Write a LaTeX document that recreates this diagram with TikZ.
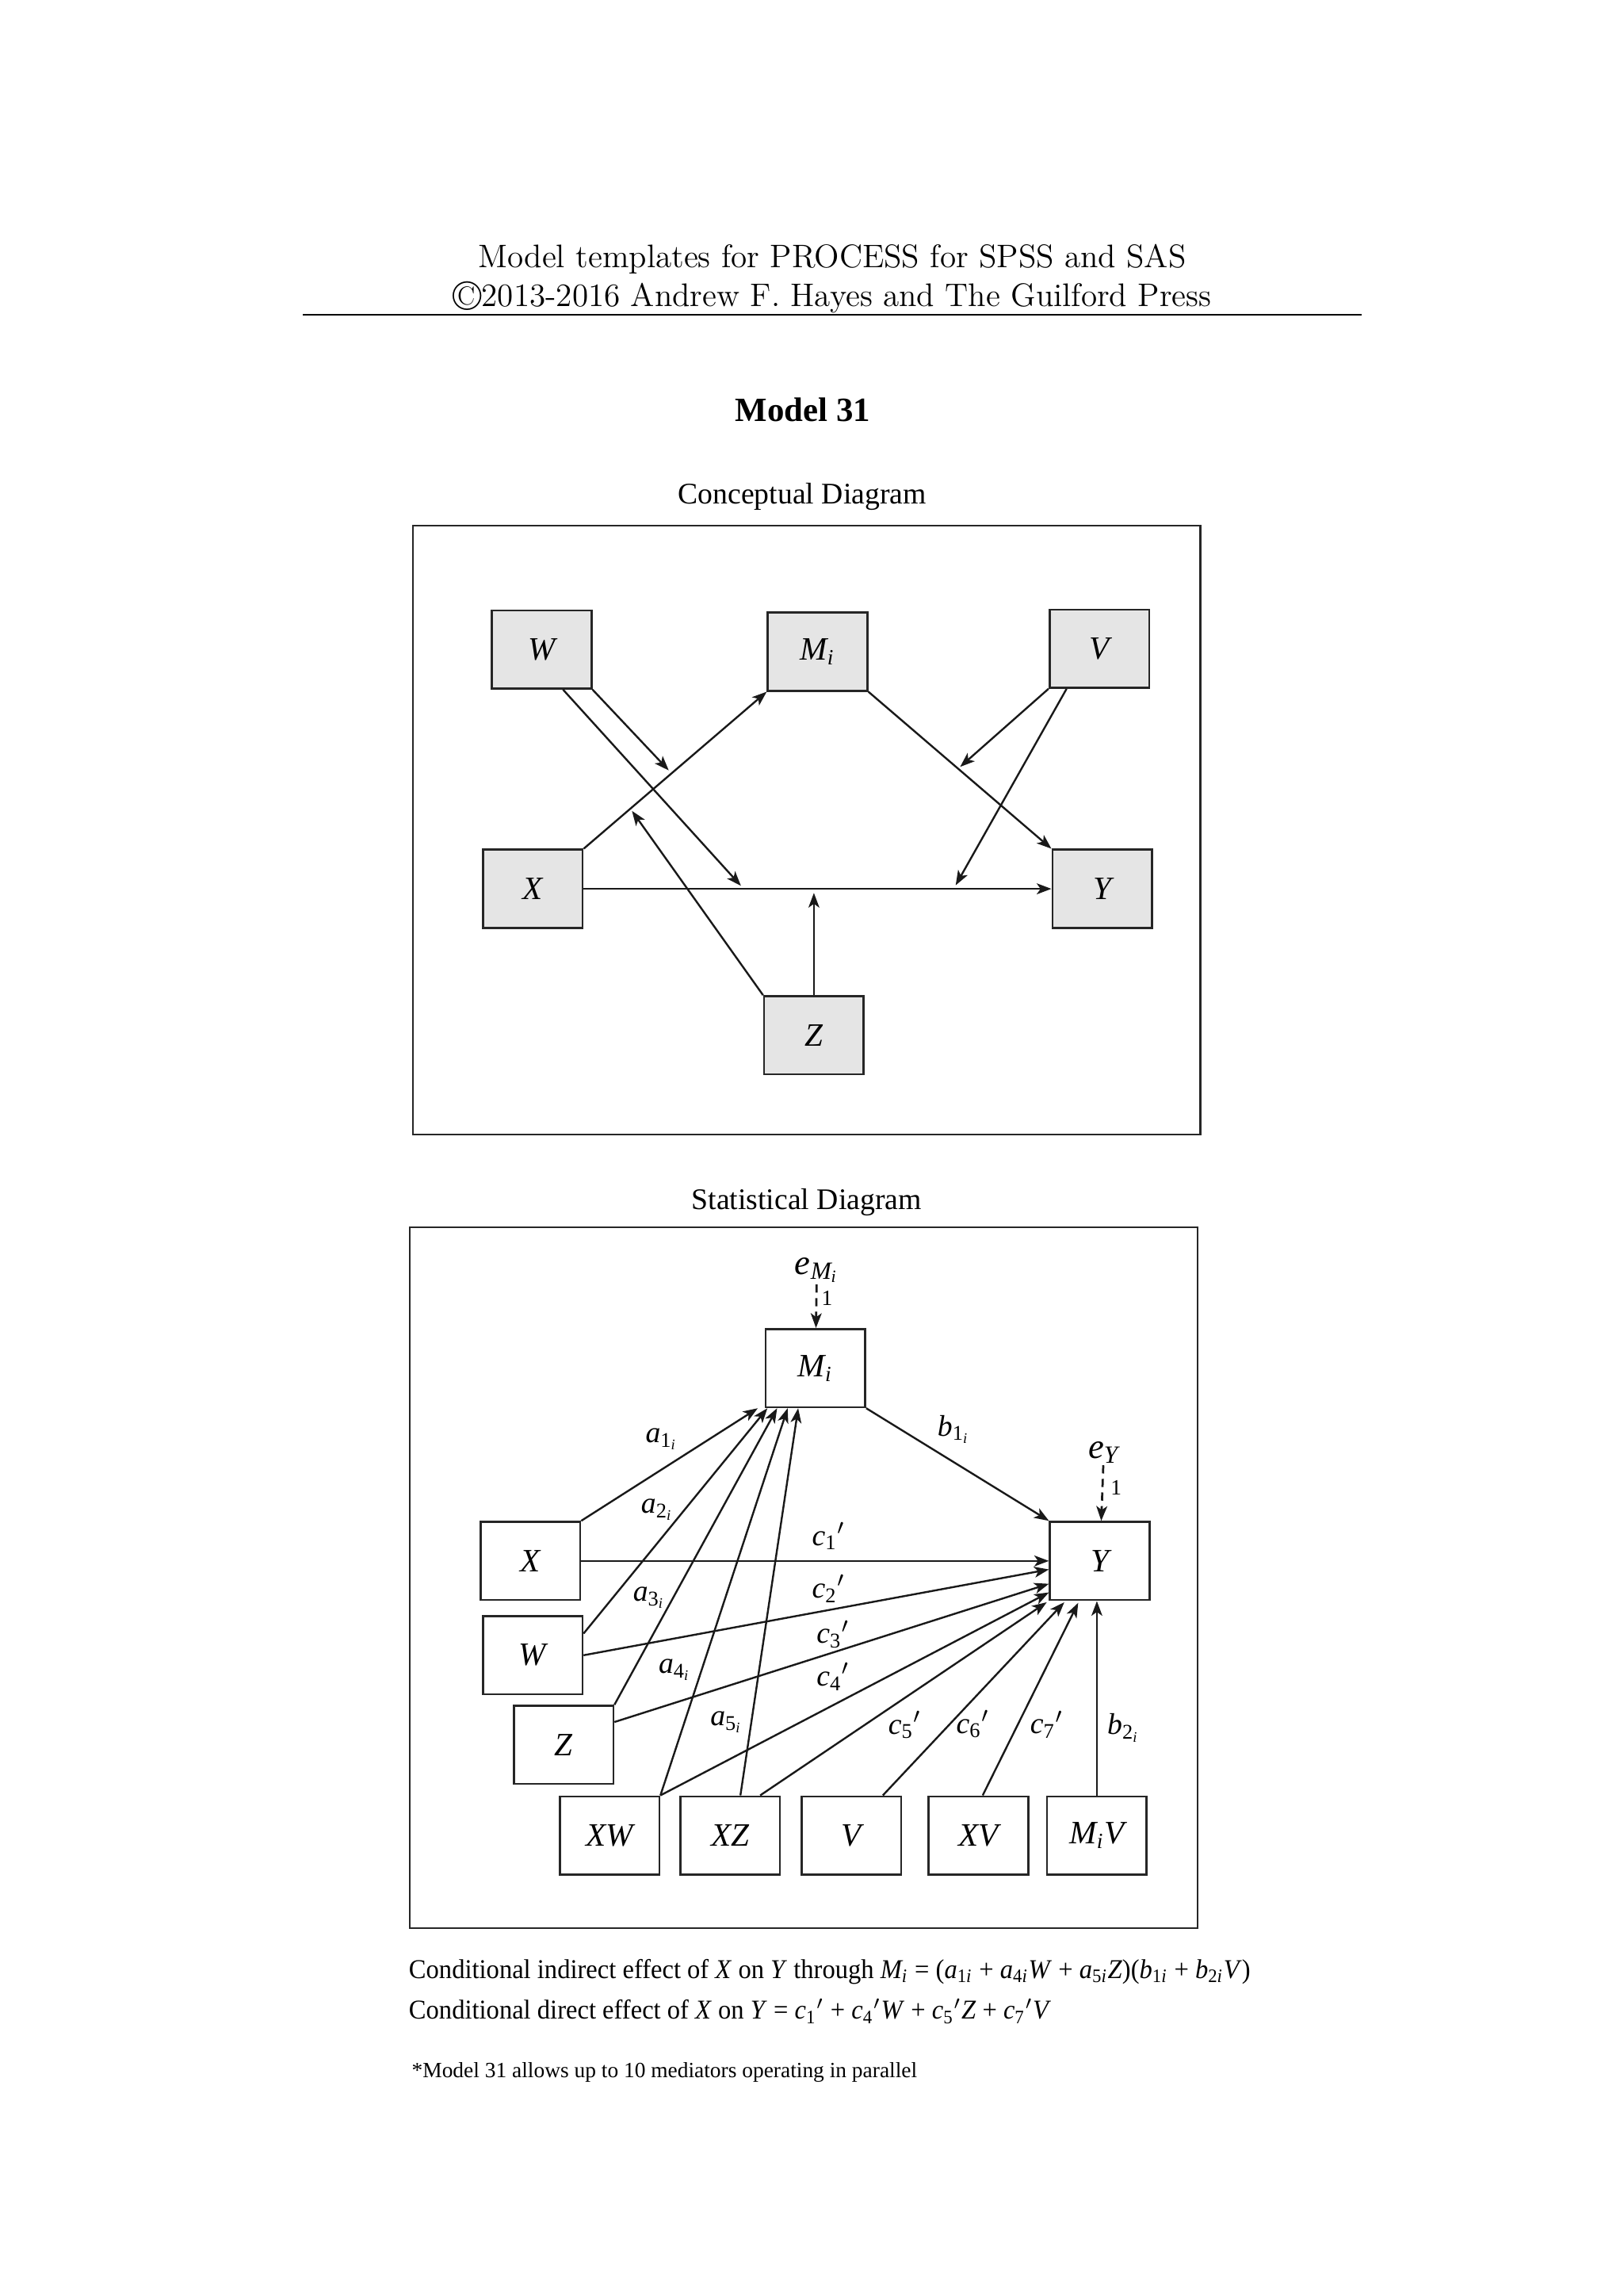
\documentclass[tikz,border=0pt]{standalone}
\usepackage{fontspec}
\newfontfamily\tms{Liberation Serif}
\newfontfamily\tmsc[FakeStretch=0.95]{Liberation Serif}
\usetikzlibrary{arrows.meta,calc}
\tikzset{
  cbox/.style={draw=black!85,line width=0.8pt,fill=black!10,minimum width=1.288cm,minimum height=1.01cm,inner sep=0pt,font=\tms\fontsize{12}{14}\selectfont\itshape},
  sbox/.style={cbox,fill=none},
  arr/.style={-{Stealth[length=5.4pt,width=4pt,inset=1.4pt]},line width=0.7pt,draw=black!90},
  darr/.style={arr,line width=0.8pt,dash pattern=on 3pt off 2pt},
  lab/.style={font=\tms\fontsize{11}{13}\selectfont\itshape,inner sep=0pt},
  frame/.style={draw=black!85,line width=0.6pt}
}
\begin{document}
\begin{tikzpicture}[x=0.018936cm,y=-0.018936cm]
  \useasboundingbox (0,0) rectangle (1109,1568);
  \node[font=\fontsize{12}{14.5}\selectfont,anchor=base,inner sep=0pt] (hd1) at (568.5,183) {Model templates for PROCESS for SPSS and SAS};
  \node[font=\fontsize{12}{14.5}\selectfont,anchor=base,inner sep=0pt] (hd2) at (568.5,209) {\raisebox{-1.6pt}{\fontsize{15.5}{16}\selectfont\textcopyright}2013-2016 Andrew F. Hayes and The Guilford Press};
  \draw[line width=0.4pt] (207,215) -- (930,215);
  \node[font=\tms\bfseries\fontsize{12.5}{15}\selectfont,anchor=base,inner sep=0pt] (ttl) at (548.5,288) {Model 31};
  \node[font=\tms\fontsize{11}{13}\selectfont,anchor=base,inner sep=0pt] (cd) at (548,344) {Conceptual Diagram};
  \node[font=\tms\fontsize{11}{13}\selectfont,anchor=base,inner sep=0pt] (sd) at (551,826) {Statistical Diagram};
  \draw[frame] (282,359) rectangle (820,775);
  \draw[frame] (280,838) rectangle (818,1317);

  \foreach \n/\x/\y/\t in {cW/370/443.5/W, cM/558.5/445/{M\textsubscript{i}}, cV/751/443/V, cX/364/607/X, cY/753/607/Y, cZ/556/707/Z}
    \node[cbox] (\n) at (\x,\y) {\t};
  \draw[arr] (cX.north east) -- (cM.south west);
  \draw[arr] (cM.south east) -- (cY.north west);
  \draw[arr] (cX.east) -- (cY.west);
  \coordinate (p1) at ($(cX.north east)!0.48!(cM.south west)$);
  \coordinate (p2) at ($(cX.east)!0.342!(cY.west)$);
  \coordinate (p3) at ($(cM.south east)!0.49!(cY.north west)$);
  \coordinate (p4) at ($(cX.east)!0.791!(cY.west)$);
  \coordinate (p5) at ($(cX.north east)!0.255!(cM.south west)$);
  \coordinate (wb) at ($(cW.south)+(14.6,0)$);
  \coordinate (vb) at ($(cV.south)+(-22.4,0)$);
  \draw[arr,shorten >=1.5pt] (cW.south east) -- (p1);
  \draw[arr,shorten >=1.5pt] (wb) -- (p2);
  \draw[arr,shorten >=1pt] (cV.south west) -- (p3);
  \draw[arr,shorten >=1.5pt] (vb) -- (p4);
  \draw[arr,shorten >=1pt] (cZ.north west) -- (p5);
  \draw[arr,shorten >=1.5pt] (cZ) -- (cZ |- cX.east);

  \foreach \n/\x/\y/\t in {sM/557/934.3/{M\textsubscript{i}}, sX/362.3/1066/X, sY/751.3/1066/Y, sW/363.9/1130.4/W, sZ/385/1191.6/Z, sXW/416.4/1253.5/XW, sXZ/498.8/1253.5/XZ, sV/581.6/1253.5/V, sXV/668.3/1253.5/XV, sMV/749.3/1253.5/{M\textsubscript{i}V}}
    \node[sbox] (\n) at (\x,\y) {\t};
  \node[font=\tms\fontsize{13}{15}\selectfont\itshape,inner sep=0.5pt] (eM) at (558,867.5) {e\textsubscript{M\textsubscript{i}}};
  \node[font=\tms\fontsize{13}{15}\selectfont\itshape,inner sep=0.5pt] (eY) at (754,992) {e\textsubscript{Y}};
  \node[font=\tms\fontsize{8}{9}\selectfont,inner sep=0pt] (oneM) at (565,886.5) {1};
  \node[font=\tms\fontsize{8}{9}\selectfont,inner sep=0pt] (oneY) at (762.5,1016) {1};
  \draw[darr] (eM) -- (sM);
  \draw[darr] (eY) -- (sY);

  \coordinate (a2s) at ($(sW.north east)+(0,12.6)$);
  \coordinate (a5s) at ($(sXZ.north)+(7,0)$);
  \coordinate (c3s) at ($(sZ.east)+(0,-15.6)$);
  \coordinate (c5s) at ($(sXZ.north)+(20.5,0)$);
  \coordinate (c6s) at ($(sV.north)+(21.5,0)$);
  \coordinate (c7s) at ($(sXV.north)+(3,0)$);
  \foreach \s/\d in {sX.north east/-4.6, a2s/2, sZ.north east/8.6, sXW.north east/15.8, a5s/23}
    \draw[arr] (\s) -- ($(sM.south west)+(\d,0)$);
  \foreach \s/\an/\dx/\dy in {sX.east/west/0/0, sW.east/west/0/5.8, c3s/west/0/15.6, sXW.north east/west/0/21.5, c5s/south west/-1.5/0.8, c6s/south west/10.5/0.8, c7s/south west/20/1.2}
    \draw[arr] (\s) -- ($(sY.\an)+(\dx,\dy)$);
  \draw[arr] (sM.south east) -- (sY.north west);
  \draw[arr] (sMV) -- (sMV |- sY.south);

  \foreach \n/\x/\y/\t in {la1/452/983/{a\textsubscript{\textup{1}\textsubscript{i}}}, la2/449/1031/{a\textsubscript{\textup{2}\textsubscript{i}}}, la3/443.5/1091/{a\textsubscript{\textup{3}\textsubscript{i}}}, la4/461/1140.5/{a\textsubscript{\textup{4}\textsubscript{i}}}, la5/496.3/1176/{a\textsubscript{\textup{5}\textsubscript{i}}}, lb1/651.5/976/{b\textsubscript{\textup{1}\textsubscript{i}}}, lb2/767.5/1180/{b\textsubscript{\textup{2}\textsubscript{i}}}, lc1/566/1049/{c\textsubscript{\textup{1}}$'$}, lc2/566/1085/{c\textsubscript{\textup{2}}$'$}, lc3/569/1116/{c\textsubscript{\textup{3}}$'$}, lc4/569/1145/{c\textsubscript{\textup{4}}$'$}, lc5/618/1178/{c\textsubscript{\textup{5}}$'$}, lc6/664.5/1177.5/{c\textsubscript{\textup{6}}$'$}, lc7/715/1177.8/{c\textsubscript{\textup{7}}$'$}}
    \node[lab] (\n) at (\x,\y) {\t};

  \node[font=\tmsc\fontsize{10}{12}\selectfont,anchor=base west,inner sep=0pt] (ind) at (279,1351) {Conditional indirect effect of \textit{X} on \textit{Y} through \textit{M\textsubscript{i}} = (\textit{a\textsubscript{\textup{1}i}} + \textit{a\textsubscript{\textup{4}i}W} + \textit{a\textsubscript{\textup{5}i}Z})(\textit{b\textsubscript{\textup{1}i}} + \textit{b\textsubscript{\textup{2}i}V})};
  \node[font=\tmsc\fontsize{10}{12}\selectfont,anchor=base west,inner sep=0pt] (dir) at (279,1379) {Conditional direct effect of \textit{X} on \textit{Y} = \textit{c\textsubscript{\textup{1}}}$'$ + \textit{c\textsubscript{\textup{4}}}$'$\textit{W} + \textit{c\textsubscript{\textup{5}}}$'$\textit{Z} + \textit{c\textsubscript{\textup{7}}}$'$\textit{V}};
  \node[font=\tms\fontsize{8}{10}\selectfont,anchor=base west,inner sep=0pt] (fn) at (281,1419) {*Model 31 allows up to 10 mediators operating in parallel};
\end{tikzpicture}
\end{document}
